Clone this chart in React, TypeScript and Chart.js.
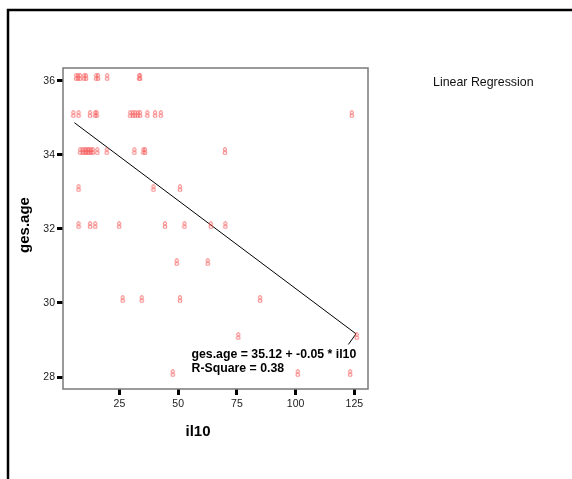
import { useEffect, useRef } from "react";
import { Chart, registerables } from "chart.js";

Chart.register(...registerables);

const il10Values = [
  6.6, 7.4, 8.3, 10.0, 10.8, 15.1, 15.9, 19.8, 33.4, 33.8,
  5.4, 7.6, 12.5, 14.7, 15.3, 29.6, 30.7, 31.7, 32.8, 33.8, 36.9, 40.2, 42.6, 123.9,
  8.3, 9.3, 10.1, 10.8, 11.6, 12.2, 13.0, 13.7, 15.6, 19.6, 31.4, 35.2, 35.9, 69.9,
  7.6, 39.5, 50.8,
  7.6, 12.5, 14.7, 24.9, 44.4, 52.7, 63.9, 70.1,
  49.4, 62.6,
  26.4, 34.5, 50.8, 84.9,
  75.6, 126.0,
  47.7, 100.9, 123.2,
];
const gesAgeValues = [
  36.1, 36.1, 36.1, 36.1, 36.1, 36.1, 36.1, 36.1, 36.1, 36.1,
  35.1, 35.1, 35.1, 35.1, 35.1, 35.1, 35.1, 35.1, 35.1, 35.1, 35.1, 35.1, 35.1, 35.1,
  34.1, 34.1, 34.1, 34.1, 34.1, 34.1, 34.1, 34.1, 34.1, 34.1, 34.1, 34.1, 34.1, 34.1,
  33.1, 33.1, 33.1,
  32.1, 32.1, 32.1, 32.1, 32.1, 32.1, 32.1, 32.1,
  31.1, 31.1,
  30.1, 30.1, 30.1, 30.1,
  29.1, 29.1,
  28.1, 28.1, 28.1,
];

const xTickValues = [25, 50, 75, 100, 125];
const yTickValues = [28, 30, 32, 34, 36];
const xRange = [1.0, 130.8];
const yRange = [27.676, 36.35];

// fitted regression line
const fitIntercept = 35.15;
const fitSlope = -0.0476;
const fitXRange = [5.85, 125.7];
const leaderEnd = [122.45, 28.88];

const xTitle = "il10";
const yTitle = "ges.age";
const legendLabel = "Linear Regression";
const equationLabel = "ges.age = 35.12 + -0.05 * il10";
const rSquareLabel = "R-Square = 0.38";

const FONT = '"Liberation Sans", Arial, Helvetica, sans-serif';

function makeMarker(): HTMLCanvasElement {
  const c = document.createElement("canvas");
  c.width = 6;
  c.height = 8;
  const g = c.getContext("2d")!;
  g.strokeStyle = "rgba(245, 80, 80, 0.8)";
  g.lineWidth = 1;
  g.beginPath();
  g.arc(3, 2.3, 1.6, 0, Math.PI * 2);
  g.stroke();
  g.beginPath();
  g.arc(3, 5.6, 1.8, 0, Math.PI * 2);
  g.stroke();
  return c;
}

const decorPlugin = {
  id: "decor",
  beforeDraw(chart: any) {
    const ctx = chart.ctx;
    ctx.save();
    ctx.fillStyle = "#ffffff";
    ctx.fillRect(0, 0, chart.width, chart.height);
    ctx.restore();
  },
  afterDraw(chart: any) {
    const ctx = chart.ctx;
    const a = chart.chartArea;
    ctx.save();
    // page frame
    ctx.strokeStyle = "#000";
    ctx.lineWidth = 2.5;
    ctx.beginPath();
    ctx.moveTo(8, chart.height + 2);
    ctx.lineTo(8, 10);
    ctx.lineTo(chart.width + 2, 10);
    ctx.stroke();
    // plot frame
    ctx.strokeStyle = "#7a7a7a";
    ctx.lineWidth = 1.5;
    ctx.strokeRect(a.left, a.top, a.right - a.left, a.bottom - a.top);
    // axis titles
    ctx.fillStyle = "#000";
    ctx.font = `bold 15px ${FONT}`;
    ctx.textAlign = "center";
    ctx.textBaseline = "middle";
    ctx.fillText(xTitle, 198, 432);
    ctx.save();
    ctx.translate(25, 225);
    ctx.rotate(-Math.PI / 2);
    ctx.fillText(yTitle, 0, 0);
    ctx.restore();
    // legend
    ctx.font = `12.4px ${FONT}`;
    ctx.textAlign = "left";
    ctx.textBaseline = "alphabetic";
    ctx.fillStyle = "#111";
    ctx.fillText(legendLabel, 433, 86);
    // annotation
    ctx.fillStyle = "#000";
    ctx.font = `bold 12.3px ${FONT}`;
    ctx.fillText(equationLabel, 191.5, 357.5);
    ctx.fillText(rSquareLabel, 191.5, 372);
    ctx.restore();
  },
};

export default function App() {
  const ref = useRef<HTMLCanvasElement | null>(null);
  useEffect(() => {
    if (!ref.current) return;
    const marker = makeMarker();
    const points = il10Values.map((x, i) => ({ x, y: gesAgeValues[i] }));
    const fitLine = fitXRange.map((x) => ({ x, y: fitIntercept + fitSlope * x }));
    const leader = [fitLine[1], { x: leaderEnd[0], y: leaderEnd[1] }];
    const tickFont = { family: FONT, size: 10.5 };
    const chart = new Chart(ref.current, {
      type: "scatter",
      data: {
        datasets: [
          {
            type: "scatter",
            data: points,
            pointStyle: marker as any,
            pointRadius: 3,
            pointHoverRadius: 3,
          },
          {
            type: "line",
            data: fitLine,
            borderColor: "#000",
            borderWidth: 1,
            pointRadius: 0,
            fill: false,
          },
          {
            type: "line",
            data: leader,
            borderColor: "#000",
            borderWidth: 1,
            pointRadius: 0,
            fill: false,
          },
        ],
      } as any,
      options: {
        animation: false,
        responsive: false,
        maintainAspectRatio: false,
        events: [],
        layout: { padding: { left: 0, top: 68, right: 204, bottom: 0 } },
        plugins: {
          legend: { display: false },
          tooltip: { enabled: false },
          title: { display: false },
        },
        scales: {
          x: {
            type: "linear",
            min: xRange[0],
            max: xRange[1],
            afterFit: (s: any) => {
              s.height = 90;
            },
            afterBuildTicks: (s: any) => {
              s.ticks = xTickValues.map((v) => ({ value: v }));
            },
            ticks: { font: tickFont, color: "#222", padding: 3, maxRotation: 0 },
            grid: {
              drawOnChartArea: false,
              drawTicks: true,
              tickLength: 6,
              tickWidth: 3,
              tickColor: "#000",
              color: "rgba(0,0,0,0)",
            },
            border: { display: false },
          },
          y: {
            type: "linear",
            min: yRange[0],
            max: yRange[1],
            afterFit: (s: any) => {
              s.width = 63;
            },
            afterBuildTicks: (s: any) => {
              s.ticks = yTickValues.map((v) => ({ value: v }));
            },
            ticks: { font: tickFont, color: "#222", padding: 2 },
            grid: {
              drawOnChartArea: false,
              drawTicks: true,
              tickLength: 6,
              tickWidth: 3,
              tickColor: "#000",
              color: "rgba(0,0,0,0)",
            },
            border: { display: false },
          },
        },
      } as any,
      plugins: [decorPlugin],
    });
    return () => chart.destroy();
  }, []);
  return (
    <div style={{ position: "absolute", left: 0, top: 0, width: 572, height: 479 }}>
      <canvas ref={ref} width={572} height={479} style={{ display: "block", width: 572, height: 479 }} />
    </div>
  );
}
